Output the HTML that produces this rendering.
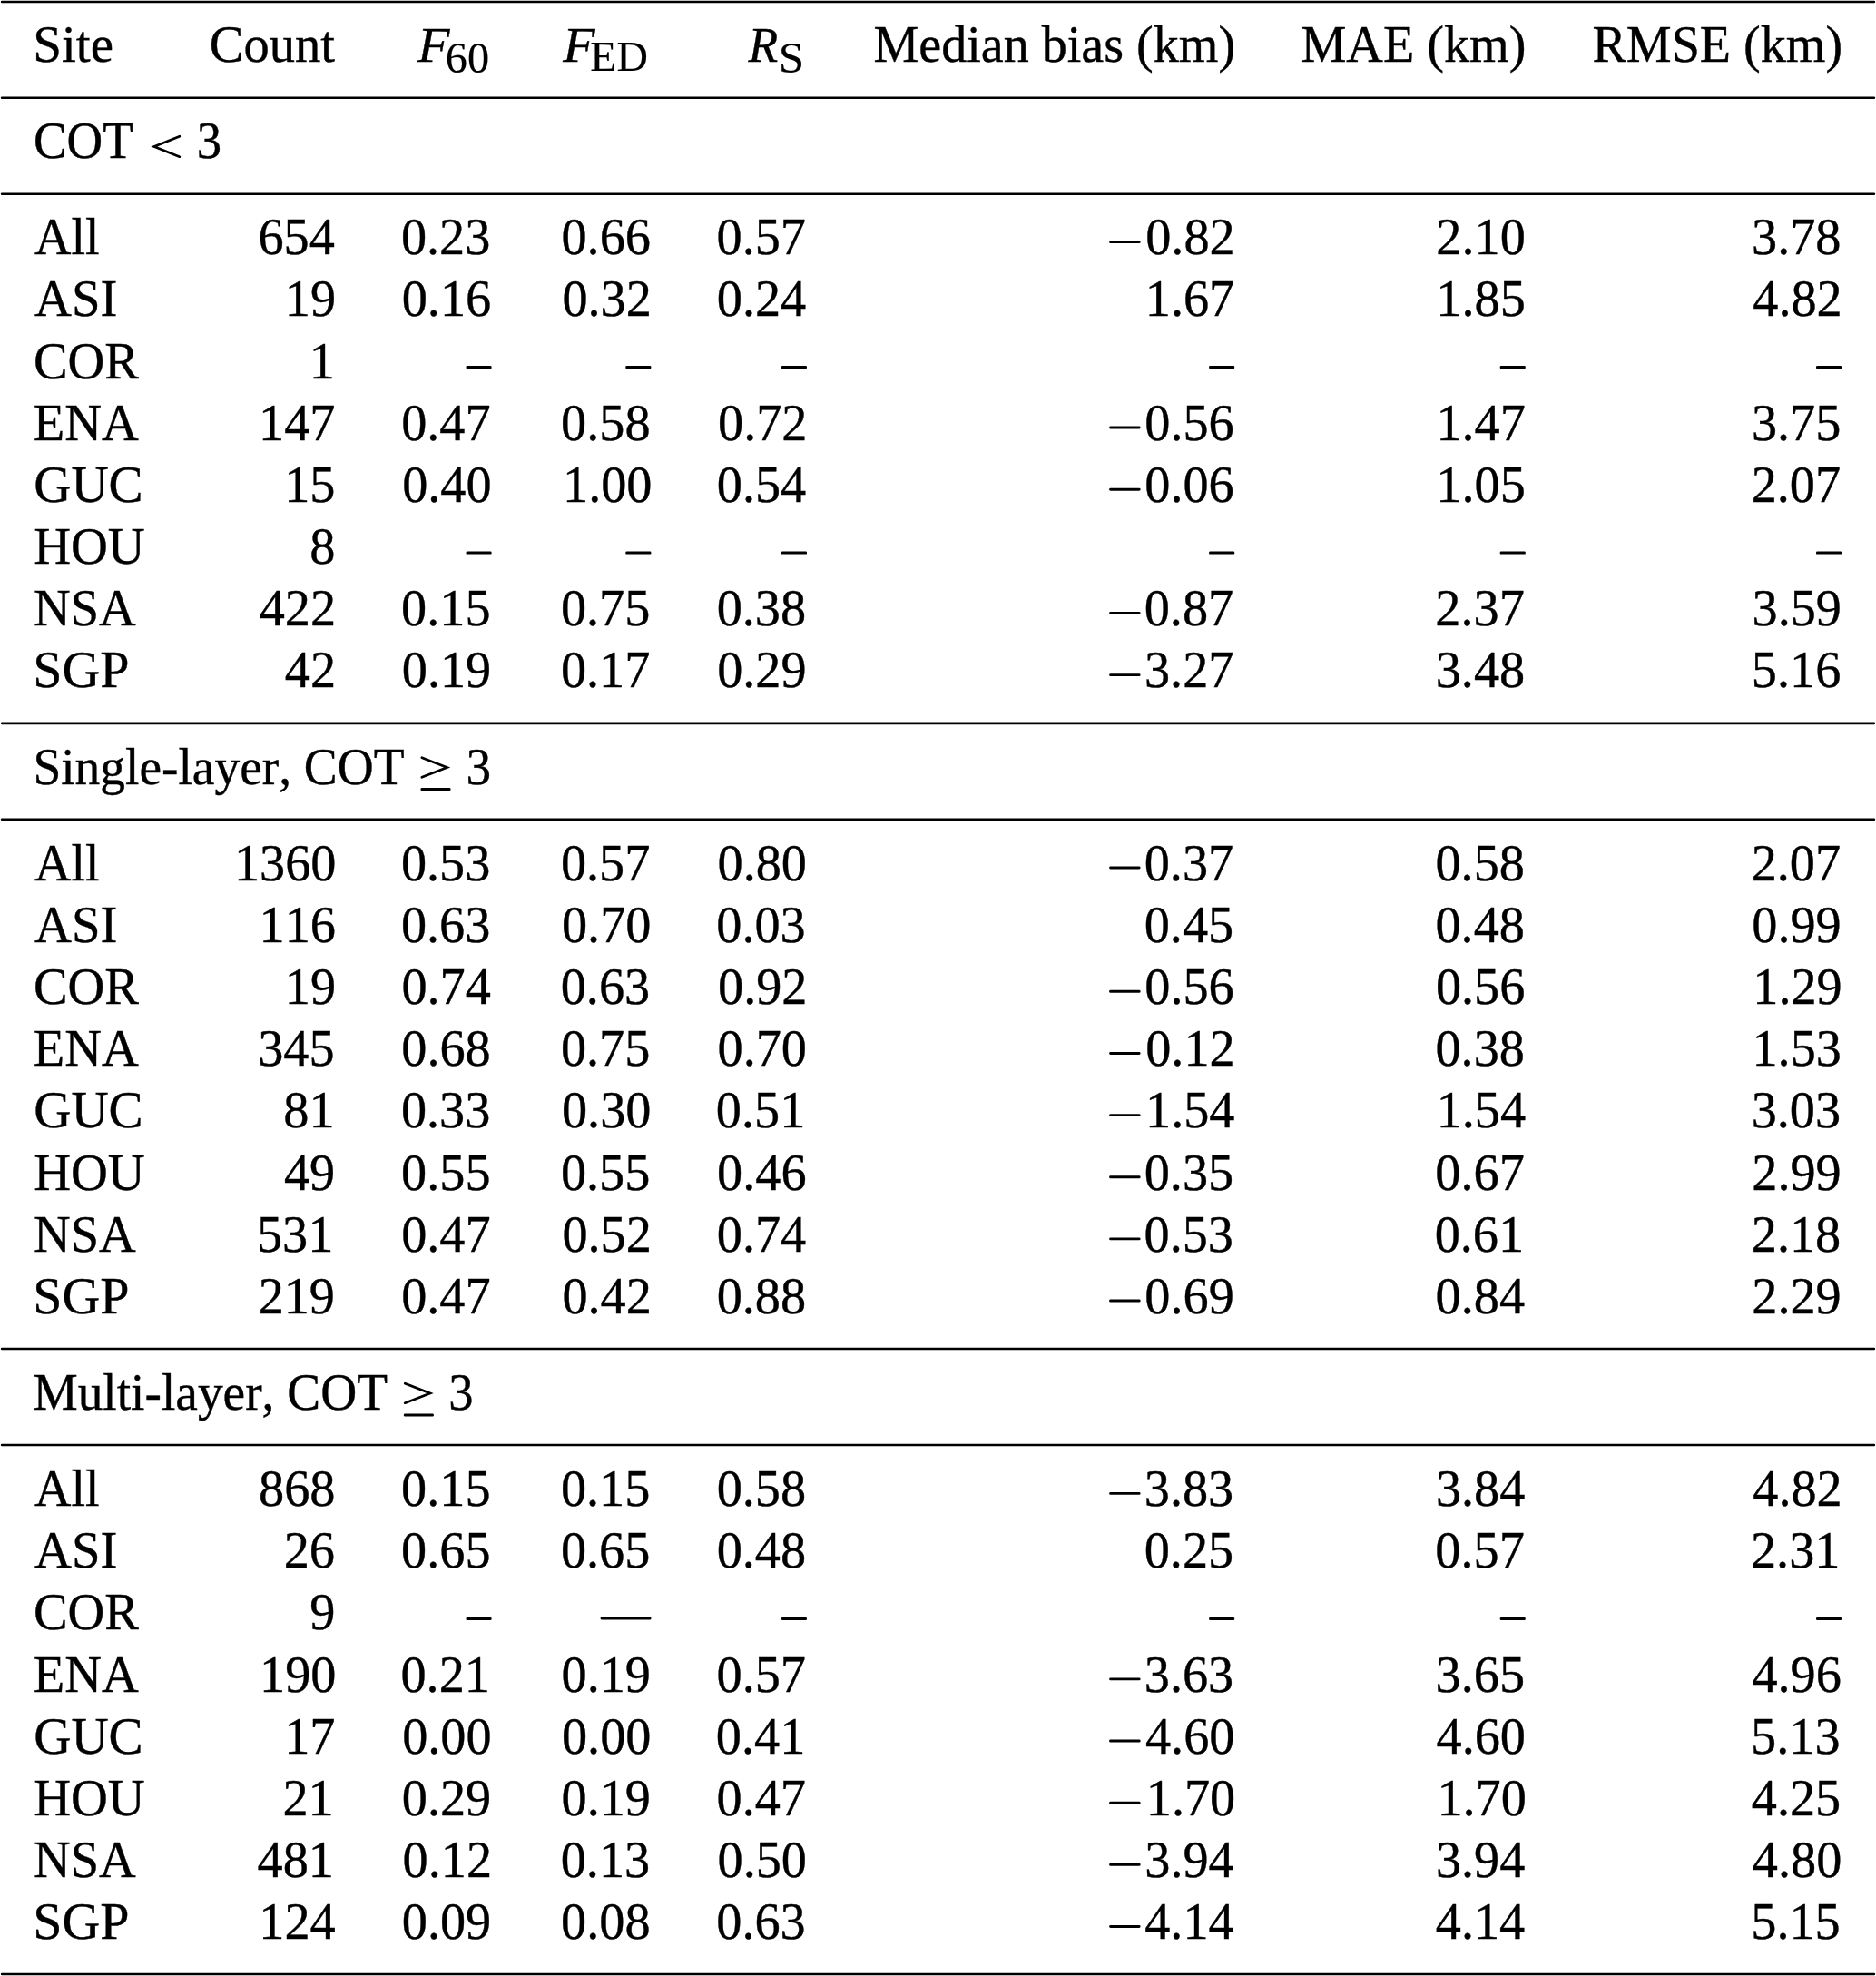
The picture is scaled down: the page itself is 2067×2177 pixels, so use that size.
<!DOCTYPE html><html><head><meta charset="utf-8"><style>html,body{margin:0;padding:0;background:#fff;overflow:hidden}svg{display:block;will-change:transform}text{font-family:"Liberation Serif",serif;font-kerning:none;font-variant-ligatures:none;stroke:#000;stroke-width:0.4px}</style></head><body>
<svg width="2067" height="2177" viewBox="0 0 2067 2177" fill="#000">
<rect x="0" y="0" width="2067" height="2177" fill="#fff"/>
<rect x="0.80" y="0.65" width="2065.40" height="2.60" rx="1.30"/>
<rect x="0.80" y="106.50" width="2065.40" height="2.60" rx="1.30"/>
<rect x="0.80" y="212.50" width="2065.40" height="2.60" rx="1.30"/>
<rect x="0.80" y="795.55" width="2065.40" height="2.60" rx="1.30"/>
<rect x="0.80" y="901.50" width="2065.40" height="2.60" rx="1.30"/>
<rect x="0.80" y="1484.65" width="2065.40" height="2.60" rx="1.30"/>
<rect x="0.80" y="1590.65" width="2065.40" height="2.60" rx="1.30"/>
<rect x="0.80" y="2173.65" width="2065.40" height="2.60" rx="1.30"/>
<text transform="matrix(0.9950 0 0 1.0000 36.29 68.00)" font-size="57.30">Site</text>
<text transform="matrix(0.9869 0 0 1.0000 230.68 68.00)" font-size="57.30">Count</text>
<text transform="matrix(1.0060 0 0 0.9700 460.31 68.00)" font-size="57.30" font-style="italic">F</text>
<text transform="matrix(0.4890 0 0 0.5000 490.82 80.30)" font-size="98.80">60</text>
<text transform="matrix(1.0060 0 0 0.9700 620.31 68.00)" font-size="57.30" font-style="italic">F</text>
<text transform="matrix(0.5074 0 0 0.5000 650.33 78.00)" font-size="94.00">ED</text>
<text transform="matrix(0.9343 0 0 0.9700 824.49 68.00)" font-size="57.30" font-style="italic">R</text>
<text transform="matrix(0.5175 0 0 0.5000 857.69 80.20)" font-size="98.60">S</text>
<text transform="matrix(0.9792 0 0 1.0000 962.38 68.00)" font-size="57.30">Median bias (km)</text>
<text transform="matrix(0.9804 0 0 1.0000 1433.38 68.00)" font-size="57.30">MAE (km)</text>
<text transform="matrix(0.9788 0 0 1.0000 1754.38 68.00)" font-size="57.30">RMSE (km)</text>
<text transform="matrix(0.9587 0 0 1.0000 36.95 174.40)" font-size="57.30">COT</text>
<path d="M197.85 150.25 L169.82 161.45 L197.85 172.65" fill="none" stroke="#000" stroke-width="2.70" stroke-linejoin="miter" stroke-miterlimit="10" stroke-linecap="round"/>
<text transform="matrix(0.9548 0 0 1.0000 216.78 174.40)" font-size="57.30">3</text>
<text transform="matrix(0.9670 0 0 1.0000 36.39 863.80)" font-size="57.30">Single-layer, COT</text>
<path d="M464.85 834.75 L492.58 845.50 L464.85 856.25" fill="none" stroke="#000" stroke-width="2.70" stroke-linejoin="miter" stroke-miterlimit="10" stroke-linecap="round"/>
<rect x="463.50" y="868.10" width="33.00" height="3.00" rx="1.20"/>
<text transform="matrix(0.9633 0 0 1.0000 513.56 863.80)" font-size="57.30">3</text>
<text transform="matrix(0.9666 0 0 1.0000 36.40 1553.20)" font-size="57.30">Multi-layer, COT</text>
<path d="M446.25 1524.15 L473.98 1534.90 L446.25 1545.65" fill="none" stroke="#000" stroke-width="2.70" stroke-linejoin="miter" stroke-miterlimit="10" stroke-linecap="round"/>
<rect x="444.90" y="1557.50" width="33.00" height="3.00" rx="1.20"/>
<text transform="matrix(0.9548 0 0 1.0000 494.28 1553.20)" font-size="57.30">3</text>
<text transform="matrix(0.9769 0 0 1.0000 38.00 280.30)" font-size="57.30">All</text>
<text transform="matrix(0.9817 0 0 1 284.42 280.30)" font-size="57.30">654</text>
<text transform="matrix(0.9817 0 0 1 441.92 280.30)" font-size="57.30">0.23</text>
<text transform="matrix(0.9817 0 0 1 618.50 280.30)" font-size="57.30">0.66</text>
<text transform="matrix(0.9817 0 0 1 789.54 280.30)" font-size="57.30">0.57</text>
<text transform="matrix(0.9817 0 0 1 1262.21 280.30)" font-size="57.30">0.82</text>
<rect x="1222.16" y="265.10" width="34.40" height="2.90" rx="1.30"/>
<text transform="matrix(0.9817 0 0 1 1582.37 280.30)" font-size="57.30">2.10</text>
<text transform="matrix(0.9817 0 0 1 1930.05 280.30)" font-size="57.30">3.78</text>
<text transform="matrix(0.9889 0 0 1.0000 37.99 348.46)" font-size="57.30">ASI</text>
<text transform="matrix(0.9817 0 0 1 313.80 348.46)" font-size="57.30">19</text>
<text transform="matrix(0.9817 0 0 1 442.70 348.46)" font-size="57.30">0.16</text>
<text transform="matrix(0.9817 0 0 1 619.41 348.46)" font-size="57.30">0.32</text>
<text transform="matrix(0.9817 0 0 1 789.82 348.46)" font-size="57.30">0.24</text>
<text transform="matrix(0.9817 0 0 1 1261.79 348.46)" font-size="57.30">1.67</text>
<text transform="matrix(0.9817 0 0 1 1582.37 348.46)" font-size="57.30">1.85</text>
<text transform="matrix(0.9817 0 0 1 1931.30 348.46)" font-size="57.30">4.82</text>
<text transform="matrix(0.9848 0 0 1.0000 36.96 416.62)" font-size="57.30">COR</text>
<text transform="matrix(0.9817 0 0 1 340.63 416.62)" font-size="57.30">1</text>
<rect x="513.50" y="403.12" width="28.10" height="3.00" rx="1.20"/>
<rect x="689.30" y="403.12" width="28.10" height="3.00" rx="1.20"/>
<rect x="860.90" y="403.12" width="28.10" height="3.00" rx="1.20"/>
<rect x="1332.10" y="403.12" width="28.10" height="3.00" rx="1.20"/>
<rect x="1652.70" y="403.12" width="28.10" height="3.00" rx="1.20"/>
<rect x="2001.00" y="403.12" width="28.10" height="3.00" rx="1.20"/>
<text transform="matrix(0.9855 0 0 1.0000 36.75 484.78)" font-size="57.30">ENA</text>
<text transform="matrix(0.9817 0 0 1 285.05 484.78)" font-size="57.30">147</text>
<text transform="matrix(0.9817 0 0 1 442.14 484.78)" font-size="57.30">0.47</text>
<text transform="matrix(0.9817 0 0 1 618.09 484.78)" font-size="57.30">0.58</text>
<text transform="matrix(0.9817 0 0 1 791.01 484.78)" font-size="57.30">0.72</text>
<text transform="matrix(0.9817 0 0 1 1261.30 484.78)" font-size="57.30">0.56</text>
<rect x="1222.16" y="469.58" width="34.40" height="2.90" rx="1.30"/>
<text transform="matrix(0.9817 0 0 1 1582.39 484.78)" font-size="57.30">1.47</text>
<text transform="matrix(0.9817 0 0 1 1929.88 484.78)" font-size="57.30">3.75</text>
<text transform="matrix(0.9962 0 0 1.0000 37.16 552.94)" font-size="57.30">GUC</text>
<text transform="matrix(0.9817 0 0 1 313.15 552.94)" font-size="57.30">15</text>
<text transform="matrix(0.9817 0 0 1 443.16 552.94)" font-size="57.30">0.40</text>
<text transform="matrix(0.9817 0 0 1 620.01 552.94)" font-size="57.30">1.00</text>
<text transform="matrix(0.9817 0 0 1 789.82 552.94)" font-size="57.30">0.54</text>
<text transform="matrix(0.9817 0 0 1 1261.30 552.94)" font-size="57.30">0.06</text>
<rect x="1222.16" y="537.74" width="34.40" height="2.90" rx="1.30"/>
<text transform="matrix(0.9817 0 0 1 1582.37 552.94)" font-size="57.30">1.05</text>
<text transform="matrix(0.9817 0 0 1 1929.64 552.94)" font-size="57.30">2.07</text>
<text transform="matrix(0.9878 0 0 1.0000 37.14 621.10)" font-size="57.30">HOU</text>
<text transform="matrix(0.9817 0 0 1 341.30 621.10)" font-size="57.30">8</text>
<rect x="513.50" y="607.60" width="28.10" height="3.00" rx="1.20"/>
<rect x="689.30" y="607.60" width="28.10" height="3.00" rx="1.20"/>
<rect x="860.90" y="607.60" width="28.10" height="3.00" rx="1.20"/>
<rect x="1332.10" y="607.60" width="28.10" height="3.00" rx="1.20"/>
<rect x="1652.70" y="607.60" width="28.10" height="3.00" rx="1.20"/>
<rect x="2001.00" y="607.60" width="28.10" height="3.00" rx="1.20"/>
<text transform="matrix(0.9835 0 0 1.0000 36.98 689.26)" font-size="57.30">NSA</text>
<text transform="matrix(0.9817 0 0 1 285.66 689.26)" font-size="57.30">422</text>
<text transform="matrix(0.9817 0 0 1 442.12 689.26)" font-size="57.30">0.15</text>
<text transform="matrix(0.9817 0 0 1 617.92 689.26)" font-size="57.30">0.75</text>
<text transform="matrix(0.9817 0 0 1 789.69 689.26)" font-size="57.30">0.38</text>
<text transform="matrix(0.9817 0 0 1 1260.74 689.26)" font-size="57.30">0.87</text>
<rect x="1222.16" y="674.06" width="34.40" height="2.90" rx="1.30"/>
<text transform="matrix(0.9817 0 0 1 1581.34 689.26)" font-size="57.30">2.37</text>
<text transform="matrix(0.9817 0 0 1 1930.53 689.26)" font-size="57.30">3.59</text>
<text transform="matrix(1.0103 0 0 1.0000 36.19 757.42)" font-size="57.30">SGP</text>
<text transform="matrix(0.9817 0 0 1 313.79 757.42)" font-size="57.30">42</text>
<text transform="matrix(0.9817 0 0 1 442.77 757.42)" font-size="57.30">0.19</text>
<text transform="matrix(0.9817 0 0 1 617.94 757.42)" font-size="57.30">0.17</text>
<text transform="matrix(0.9817 0 0 1 790.17 757.42)" font-size="57.30">0.29</text>
<text transform="matrix(0.9817 0 0 1 1261.00 757.42)" font-size="57.30">3.27</text>
<rect x="1222.16" y="742.22" width="34.40" height="2.90" rx="1.30"/>
<text transform="matrix(0.9817 0 0 1 1581.75 757.42)" font-size="57.30">3.48</text>
<text transform="matrix(0.9817 0 0 1 1929.86 757.42)" font-size="57.30">5.16</text>
<text transform="matrix(0.9769 0 0 1.0000 38.00 969.70)" font-size="57.30">All</text>
<text transform="matrix(0.9817 0 0 1 257.94 969.70)" font-size="57.30">1360</text>
<text transform="matrix(0.9817 0 0 1 441.92 969.70)" font-size="57.30">0.53</text>
<text transform="matrix(0.9817 0 0 1 617.94 969.70)" font-size="57.30">0.57</text>
<text transform="matrix(0.9817 0 0 1 790.56 969.70)" font-size="57.30">0.80</text>
<text transform="matrix(0.9817 0 0 1 1260.74 969.70)" font-size="57.30">0.37</text>
<rect x="1222.16" y="954.50" width="34.40" height="2.90" rx="1.30"/>
<text transform="matrix(0.9817 0 0 1 1581.49 969.70)" font-size="57.30">0.58</text>
<text transform="matrix(0.9817 0 0 1 1929.64 969.70)" font-size="57.30">2.07</text>
<text transform="matrix(0.9889 0 0 1.0000 37.99 1037.86)" font-size="57.30">ASI</text>
<text transform="matrix(0.9817 0 0 1 285.61 1037.86)" font-size="57.30">116</text>
<text transform="matrix(0.9817 0 0 1 441.92 1037.86)" font-size="57.30">0.63</text>
<text transform="matrix(0.9817 0 0 1 618.96 1037.86)" font-size="57.30">0.70</text>
<text transform="matrix(0.9817 0 0 1 789.32 1037.86)" font-size="57.30">0.03</text>
<text transform="matrix(0.9817 0 0 1 1260.72 1037.86)" font-size="57.30">0.45</text>
<text transform="matrix(0.9817 0 0 1 1581.49 1037.86)" font-size="57.30">0.48</text>
<text transform="matrix(0.9817 0 0 1 1930.27 1037.86)" font-size="57.30">0.99</text>
<text transform="matrix(0.9848 0 0 1.0000 36.96 1106.02)" font-size="57.30">COR</text>
<text transform="matrix(0.9817 0 0 1 313.80 1106.02)" font-size="57.30">19</text>
<text transform="matrix(0.9817 0 0 1 442.42 1106.02)" font-size="57.30">0.74</text>
<text transform="matrix(0.9817 0 0 1 617.72 1106.02)" font-size="57.30">0.63</text>
<text transform="matrix(0.9817 0 0 1 791.01 1106.02)" font-size="57.30">0.92</text>
<text transform="matrix(0.9817 0 0 1 1261.30 1106.02)" font-size="57.30">0.56</text>
<rect x="1222.16" y="1090.82" width="34.40" height="2.90" rx="1.30"/>
<text transform="matrix(0.9817 0 0 1 1581.90 1106.02)" font-size="57.30">0.56</text>
<text transform="matrix(0.9817 0 0 1 1931.31 1106.02)" font-size="57.30">1.29</text>
<text transform="matrix(0.9855 0 0 1.0000 36.75 1174.18)" font-size="57.30">ENA</text>
<text transform="matrix(0.9817 0 0 1 284.24 1174.18)" font-size="57.30">345</text>
<text transform="matrix(0.9817 0 0 1 442.29 1174.18)" font-size="57.30">0.68</text>
<text transform="matrix(0.9817 0 0 1 617.92 1174.18)" font-size="57.30">0.75</text>
<text transform="matrix(0.9817 0 0 1 790.56 1174.18)" font-size="57.30">0.70</text>
<text transform="matrix(0.9817 0 0 1 1262.21 1174.18)" font-size="57.30">0.12</text>
<rect x="1222.16" y="1158.98" width="34.40" height="2.90" rx="1.30"/>
<text transform="matrix(0.9817 0 0 1 1581.49 1174.18)" font-size="57.30">0.38</text>
<text transform="matrix(0.9817 0 0 1 1930.47 1174.18)" font-size="57.30">1.53</text>
<text transform="matrix(0.9962 0 0 1.0000 37.16 1242.34)" font-size="57.30">GUC</text>
<text transform="matrix(0.9817 0 0 1 312.36 1242.34)" font-size="57.30">81</text>
<text transform="matrix(0.9817 0 0 1 441.92 1242.34)" font-size="57.30">0.33</text>
<text transform="matrix(0.9817 0 0 1 618.96 1242.34)" font-size="57.30">0.30</text>
<text transform="matrix(0.9817 0 0 1 788.87 1242.34)" font-size="57.30">0.51</text>
<text transform="matrix(0.9817 0 0 1 1262.06 1242.34)" font-size="57.30">1.54</text>
<rect x="1222.16" y="1227.14" width="34.40" height="2.90" rx="1.30"/>
<text transform="matrix(0.9817 0 0 1 1582.66 1242.34)" font-size="57.30">1.54</text>
<text transform="matrix(0.9817 0 0 1 1929.68 1242.34)" font-size="57.30">3.03</text>
<text transform="matrix(0.9878 0 0 1.0000 37.14 1310.50)" font-size="57.30">HOU</text>
<text transform="matrix(0.9817 0 0 1 312.94 1310.50)" font-size="57.30">49</text>
<text transform="matrix(0.9817 0 0 1 442.12 1310.50)" font-size="57.30">0.55</text>
<text transform="matrix(0.9817 0 0 1 617.92 1310.50)" font-size="57.30">0.55</text>
<text transform="matrix(0.9817 0 0 1 790.10 1310.50)" font-size="57.30">0.46</text>
<text transform="matrix(0.9817 0 0 1 1260.72 1310.50)" font-size="57.30">0.35</text>
<rect x="1222.16" y="1295.30" width="34.40" height="2.90" rx="1.30"/>
<text transform="matrix(0.9817 0 0 1 1581.34 1310.50)" font-size="57.30">0.67</text>
<text transform="matrix(0.9817 0 0 1 1930.27 1310.50)" font-size="57.30">2.99</text>
<text transform="matrix(0.9835 0 0 1.0000 36.98 1378.66)" font-size="57.30">NSA</text>
<text transform="matrix(0.9817 0 0 1 283.00 1378.66)" font-size="57.30">531</text>
<text transform="matrix(0.9817 0 0 1 442.14 1378.66)" font-size="57.30">0.47</text>
<text transform="matrix(0.9817 0 0 1 619.41 1378.66)" font-size="57.30">0.52</text>
<text transform="matrix(0.9817 0 0 1 789.82 1378.66)" font-size="57.30">0.74</text>
<text transform="matrix(0.9817 0 0 1 1260.52 1378.66)" font-size="57.30">0.53</text>
<rect x="1222.16" y="1363.46" width="34.40" height="2.90" rx="1.30"/>
<text transform="matrix(0.9817 0 0 1 1580.67 1378.66)" font-size="57.30">0.61</text>
<text transform="matrix(0.9817 0 0 1 1929.79 1378.66)" font-size="57.30">2.18</text>
<text transform="matrix(1.0103 0 0 1.0000 36.19 1446.82)" font-size="57.30">SGP</text>
<text transform="matrix(0.9817 0 0 1 284.63 1446.82)" font-size="57.30">219</text>
<text transform="matrix(0.9817 0 0 1 442.14 1446.82)" font-size="57.30">0.47</text>
<text transform="matrix(0.9817 0 0 1 619.41 1446.82)" font-size="57.30">0.42</text>
<text transform="matrix(0.9817 0 0 1 789.69 1446.82)" font-size="57.30">0.88</text>
<text transform="matrix(0.9817 0 0 1 1261.37 1446.82)" font-size="57.30">0.69</text>
<rect x="1222.16" y="1431.62" width="34.40" height="2.90" rx="1.30"/>
<text transform="matrix(0.9817 0 0 1 1581.62 1446.82)" font-size="57.30">0.84</text>
<text transform="matrix(0.9817 0 0 1 1930.27 1446.82)" font-size="57.30">2.29</text>
<text transform="matrix(0.9769 0 0 1.0000 38.00 1659.10)" font-size="57.30">All</text>
<text transform="matrix(0.9817 0 0 1 285.05 1659.10)" font-size="57.30">868</text>
<text transform="matrix(0.9817 0 0 1 442.12 1659.10)" font-size="57.30">0.15</text>
<text transform="matrix(0.9817 0 0 1 617.92 1659.10)" font-size="57.30">0.15</text>
<text transform="matrix(0.9817 0 0 1 789.69 1659.10)" font-size="57.30">0.58</text>
<text transform="matrix(0.9817 0 0 1 1260.78 1659.10)" font-size="57.30">3.83</text>
<rect x="1222.16" y="1643.90" width="34.40" height="2.90" rx="1.30"/>
<text transform="matrix(0.9817 0 0 1 1581.88 1659.10)" font-size="57.30">3.84</text>
<text transform="matrix(0.9817 0 0 1 1931.30 1659.10)" font-size="57.30">4.82</text>
<text transform="matrix(0.9889 0 0 1.0000 37.99 1727.26)" font-size="57.30">ASI</text>
<text transform="matrix(0.9817 0 0 1 312.69 1727.26)" font-size="57.30">26</text>
<text transform="matrix(0.9817 0 0 1 442.12 1727.26)" font-size="57.30">0.65</text>
<text transform="matrix(0.9817 0 0 1 617.92 1727.26)" font-size="57.30">0.65</text>
<text transform="matrix(0.9817 0 0 1 789.69 1727.26)" font-size="57.30">0.48</text>
<text transform="matrix(0.9817 0 0 1 1260.72 1727.26)" font-size="57.30">0.25</text>
<text transform="matrix(0.9817 0 0 1 1581.34 1727.26)" font-size="57.30">0.57</text>
<text transform="matrix(0.9817 0 0 1 1928.98 1727.26)" font-size="57.30">2.31</text>
<text transform="matrix(0.9848 0 0 1.0000 36.96 1795.42)" font-size="57.30">COR</text>
<text transform="matrix(0.9817 0 0 1 341.21 1795.42)" font-size="57.30">9</text>
<rect x="513.50" y="1781.92" width="28.10" height="3.00" rx="1.20"/>
<rect x="661.70" y="1781.42" width="55.70" height="3.00" rx="1.20"/>
<rect x="860.90" y="1781.92" width="28.10" height="3.00" rx="1.20"/>
<rect x="1332.10" y="1781.92" width="28.10" height="3.00" rx="1.20"/>
<rect x="1652.70" y="1781.92" width="28.10" height="3.00" rx="1.20"/>
<rect x="2001.00" y="1781.92" width="28.10" height="3.00" rx="1.20"/>
<text transform="matrix(0.9855 0 0 1.0000 36.75 1863.58)" font-size="57.30">ENA</text>
<text transform="matrix(0.9817 0 0 1 286.07 1863.58)" font-size="57.30">190</text>
<text transform="matrix(0.9817 0 0 1 441.47 1863.58)" font-size="57.30">0.21</text>
<text transform="matrix(0.9817 0 0 1 618.57 1863.58)" font-size="57.30">0.19</text>
<text transform="matrix(0.9817 0 0 1 789.54 1863.58)" font-size="57.30">0.57</text>
<text transform="matrix(0.9817 0 0 1 1260.78 1863.58)" font-size="57.30">3.63</text>
<rect x="1222.16" y="1848.38" width="34.40" height="2.90" rx="1.30"/>
<text transform="matrix(0.9817 0 0 1 1581.58 1863.58)" font-size="57.30">3.65</text>
<text transform="matrix(0.9817 0 0 1 1930.39 1863.58)" font-size="57.30">4.96</text>
<text transform="matrix(0.9962 0 0 1.0000 37.16 1931.74)" font-size="57.30">GUC</text>
<text transform="matrix(0.9817 0 0 1 313.18 1931.74)" font-size="57.30">17</text>
<text transform="matrix(0.9817 0 0 1 443.16 1931.74)" font-size="57.30">0.00</text>
<text transform="matrix(0.9817 0 0 1 618.96 1931.74)" font-size="57.30">0.00</text>
<text transform="matrix(0.9817 0 0 1 788.87 1931.74)" font-size="57.30">0.41</text>
<text transform="matrix(0.9817 0 0 1 1261.95 1931.74)" font-size="57.30">4.60</text>
<rect x="1222.16" y="1916.54" width="34.40" height="2.90" rx="1.30"/>
<text transform="matrix(0.9817 0 0 1 1582.55 1931.74)" font-size="57.30">4.60</text>
<text transform="matrix(0.9817 0 0 1 1929.09 1931.74)" font-size="57.30">5.13</text>
<text transform="matrix(0.9878 0 0 1.0000 37.14 1999.90)" font-size="57.30">HOU</text>
<text transform="matrix(0.9817 0 0 1 311.46 1999.90)" font-size="57.30">21</text>
<text transform="matrix(0.9817 0 0 1 442.77 1999.90)" font-size="57.30">0.29</text>
<text transform="matrix(0.9817 0 0 1 618.57 1999.90)" font-size="57.30">0.19</text>
<text transform="matrix(0.9817 0 0 1 789.54 1999.90)" font-size="57.30">0.47</text>
<text transform="matrix(0.9817 0 0 1 1262.81 1999.90)" font-size="57.30">1.70</text>
<rect x="1222.16" y="1984.70" width="34.40" height="2.90" rx="1.30"/>
<text transform="matrix(0.9817 0 0 1 1583.41 1999.90)" font-size="57.30">1.70</text>
<text transform="matrix(0.9817 0 0 1 1929.80 1999.90)" font-size="57.30">4.25</text>
<text transform="matrix(0.9835 0 0 1.0000 36.98 2068.06)" font-size="57.30">NSA</text>
<text transform="matrix(0.9817 0 0 1 283.52 2068.06)" font-size="57.30">481</text>
<text transform="matrix(0.9817 0 0 1 443.61 2068.06)" font-size="57.30">0.12</text>
<text transform="matrix(0.9817 0 0 1 617.72 2068.06)" font-size="57.30">0.13</text>
<text transform="matrix(0.9817 0 0 1 790.56 2068.06)" font-size="57.30">0.50</text>
<text transform="matrix(0.9817 0 0 1 1261.28 2068.06)" font-size="57.30">3.94</text>
<rect x="1222.16" y="2052.86" width="34.40" height="2.90" rx="1.30"/>
<text transform="matrix(0.9817 0 0 1 1581.88 2068.06)" font-size="57.30">3.94</text>
<text transform="matrix(0.9817 0 0 1 1930.85 2068.06)" font-size="57.30">4.80</text>
<text transform="matrix(1.0103 0 0 1.0000 36.19 2136.22)" font-size="57.30">SGP</text>
<text transform="matrix(0.9817 0 0 1 285.33 2136.22)" font-size="57.30">124</text>
<text transform="matrix(0.9817 0 0 1 442.77 2136.22)" font-size="57.30">0.09</text>
<text transform="matrix(0.9817 0 0 1 618.09 2136.22)" font-size="57.30">0.08</text>
<text transform="matrix(0.9817 0 0 1 789.32 2136.22)" font-size="57.30">0.63</text>
<text transform="matrix(0.9817 0 0 1 1261.20 2136.22)" font-size="57.30">4.14</text>
<rect x="1222.16" y="2121.02" width="34.40" height="2.90" rx="1.30"/>
<text transform="matrix(0.9817 0 0 1 1581.80 2136.22)" font-size="57.30">4.14</text>
<text transform="matrix(0.9817 0 0 1 1929.28 2136.22)" font-size="57.30">5.15</text>
</svg></body></html>
